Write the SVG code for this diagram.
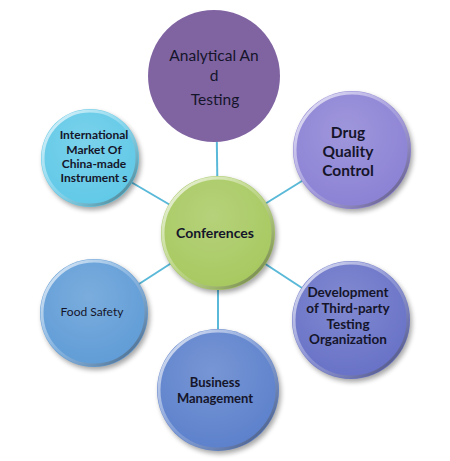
<svg xmlns="http://www.w3.org/2000/svg" width="450" height="461" viewBox="0 0 450 461">
<defs>
<style>
.lbl{font-family:Lato,"Open Sans","Liberation Sans",sans-serif;fill:#15152a;text-anchor:middle}
.b{font-weight:bold}
.conn line{stroke:#5ab9d8;stroke-width:2}
.rim{fill:none;stroke:url(#rimG);stroke-width:3}
.shadow{fill:#000;opacity:0.35;filter:url(#blur)}
</style>
<filter id="blur" x="-20%" y="-20%" width="140%" height="140%"><feGaussianBlur stdDeviation="2.5"/></filter>
<linearGradient id="rimG" x1="0" y1="0" x2="1" y2="1">
<stop offset="0" stop-color="#ffffff" stop-opacity="0.8"/>
<stop offset="0.5" stop-color="#ffffff" stop-opacity="0.2"/>
<stop offset="1" stop-color="#000000" stop-opacity="0.5"/>
</linearGradient>
<radialGradient id="shine" cx="0.45" cy="0.35" r="0.7">
<stop offset="0" stop-color="#ffffff" stop-opacity="0.18"/>
<stop offset="1" stop-color="#ffffff" stop-opacity="0"/>
</radialGradient>
</defs>
<rect width="450" height="461" fill="#ffffff"/>
<g id="connectors" class="conn">
<line x1="218" y1="233" x2="216" y2="76"/>
<line x1="218" y1="233" x2="352" y2="150"/>
<line x1="218" y1="233" x2="351" y2="320"/>
<line x1="218" y1="233" x2="218" y2="390"/>
<line x1="218" y1="233" x2="94" y2="313"/>
<line x1="218" y1="233" x2="90" y2="158"/>
</g>
<g id="node-analytical">
<circle cx="214" cy="76" r="66" fill="#8064a2"/>
<text class="lbl" x="214" y="61" font-size="15.5" fill="#221a33">Analytical An</text>
<text class="lbl" x="214" y="81" font-size="15.5" fill="#221a33">d</text>
<text class="lbl" x="215" y="105" font-size="15.5" fill="#221a33">Testing</text>
</g>
<g id="node-drug">
<circle class="shadow" cx="354" cy="153" r="59"/>
<circle cx="352" cy="150" r="59" fill="#8a80d4"/>
<circle cx="352" cy="150" r="59" fill="url(#shine)"/>
<circle class="rim" cx="352" cy="150" r="57"/>
<text class="lbl b" x="348" y="138" font-size="15.5">Drug</text>
<text class="lbl b" x="348" y="157" font-size="15.5">Quality</text>
<text class="lbl b" x="348" y="176" font-size="15.5">Control</text>
</g>
<g id="node-conferences">
<circle class="shadow" cx="220" cy="236" r="57"/>
<circle cx="218" cy="233" r="57" fill="#a6c85e"/>
<circle cx="218" cy="233" r="57" fill="url(#shine)"/>
<circle class="rim" cx="218" cy="233" r="55"/>
<text class="lbl b" x="215" y="238" font-size="14" fill="#1a2410">Conferences</text>
</g>
<g id="node-international">
<circle class="shadow" cx="92" cy="161" r="49"/>
<circle cx="90" cy="158" r="49" fill="#5ec8e7"/>
<circle cx="90" cy="158" r="49" fill="url(#shine)"/>
<circle class="rim" cx="90" cy="158" r="47"/>
<text class="lbl b" x="94" y="139" font-size="12">International</text>
<text class="lbl b" x="94" y="154" font-size="12">Market Of</text>
<text class="lbl b" x="94" y="168" font-size="12">China-made</text>
<text class="lbl b" x="94" y="182" font-size="12">Instrument s</text>
</g>
<g id="node-food">
<circle class="shadow" cx="96" cy="316" r="54"/>
<circle cx="94" cy="313" r="54" fill="#5e9bd6"/>
<circle cx="94" cy="313" r="54" fill="url(#shine)"/>
<circle class="rim" cx="94" cy="313" r="52"/>
<text class="lbl" x="92" y="316" font-size="12">Food Safety</text>
</g>
<g id="node-development">
<circle class="shadow" cx="353" cy="323" r="59"/>
<circle cx="351" cy="320" r="59" fill="#6670c6"/>
<circle cx="351" cy="320" r="59" fill="url(#shine)"/>
<circle class="rim" cx="351" cy="320" r="57"/>
<text class="lbl b" x="348" y="297" font-size="13.5">Development</text>
<text class="lbl b" x="348" y="313" font-size="13.5">of Third-party</text>
<text class="lbl b" x="348" y="329" font-size="13.5">Testing</text>
<text class="lbl b" x="348" y="344" font-size="13.5">Organization</text>
</g>
<g id="node-business">
<circle class="shadow" cx="220" cy="393" r="61"/>
<circle cx="218" cy="390" r="61" fill="#5a7fcb"/>
<circle cx="218" cy="390" r="61" fill="url(#shine)"/>
<circle class="rim" cx="218" cy="390" r="59"/>
<text class="lbl b" x="215" y="387" font-size="13">Business</text>
<text class="lbl b" x="215" y="403" font-size="13">Management</text>
</g>
</svg>
